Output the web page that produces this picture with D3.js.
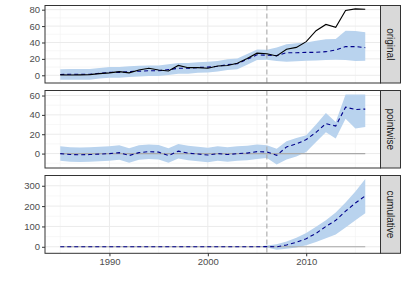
<!DOCTYPE html>
<html>
<head>
<meta charset="utf-8">
<script src="https://cdn.jsdelivr.net/npm/d3@7"></script>
<style>
  body { margin: 0; background: #fff; }
  text { font-family: "Liberation Sans", Arial, sans-serif; }
</style>
</head>
<body>
<svg id="chart" width="407" height="291"></svg>
<script>
// ---- data ----
var years = [1985, 1986, 1987, 1988, 1989, 1990, 1991, 1992, 1993, 1994, 1995, 1996, 1997, 1998, 1999, 2000,
             2001, 2002, 2003, 2004, 2005, 2006, 2007, 2008, 2009, 2010, 2011, 2012, 2013, 2014, 2015, 2016];
var interventionYear = 2006;

var actual = [0.5, 0.3, 0.5, 0.8, 2, 3, 4.5, 3, 6.5, 8.5, 6.5, 5.2, 12, 9.3, 9.3, 8.5,
              11.3, 12, 14.6, 20.5, 27, 26.3, 23.5, 31.7, 34, 41, 54.4, 62, 58.5, 79, 81, 80.5];
var predicted = [1, 1.2, 1.2, 1.2, 2.5, 3.5, 3.5, 4.5, 5, 5.5, 5.5, 7, 8.5, 8.5, 9.5, 10,
                 11, 13, 14, 19.5, 25, 24.5, 24, 27.5, 27.5, 28, 28, 28.8, 30.8, 35, 35, 33.7];
var predLower = [-5.5, -5.3, -5.3, -5.3, -4, -3, -3, -2, -1.5, -1, -1, 0.5, 2, 2, 3, 3.5,
                 4.5, 6.5, 7.5, 13, 18.5, 19, 17.5, 16.6, 17, 17.8, 18, 18.6, 19, 18.6, 17.4, 17.8];
var predUpper = [7.5, 7.7, 7.7, 7.7, 9, 10, 10, 11, 11.5, 12, 12, 13.5, 15, 15, 16, 16.5,
                 17.5, 19.5, 20.5, 26, 31.5, 31, 34, 37.8, 39, 40, 42, 44, 44.3, 54.4, 54, 52.4];

var pointEffect = [0, -1, -1.2, -1, -0.5, 0, 1, -2, 1, 2, 1.5, -2, 2.5, 0.5, -0.5, -1.5,
                   0, -1, 0, 0.5, 2, 1.7, -1.8, 6.9, 10, 14.5, 22, 31, 28.5, 48, 45.5, 46];
var pointLower = [-7.5, -8.5, -8.7, -8.5, -8, -7.5, -6.5, -9.5, -6.5, -5.5, -6, -9.5, -5, -7, -8, -9,
                  -7.5, -8.5, -7.5, -7, -5.5, -4.5, -11.4, -6, -3, 1.7, 12, 22, 15.5, 36, 26, 27.5];
var pointUpper = [7.5, 6.5, 6.3, 6.5, 7, 7.5, 8.5, 5.5, 8.5, 9.5, 9, 5.5, 10, 8, 7, 6,
                  7.5, 6.5, 7.5, 8, 9.5, 8.6, 5, 12.7, 16, 19, 30, 42, 32.7, 61, 61, 61];

var cumEffect = [0, 0, 0, 0, 0, 0, 0, 0, 0, 0, 0, 0, 0, 0, 0, 0,
                 0, 0, 0, 0, 0, 1, 0, 9, 22, 40, 66, 100, 130, 175, 215, 250];
var cumLower = [0, 0, 0, 0, 0, 0, 0, 0, 0, 0, 0, 0, 0, 0, 0, 0,
                0, 0, 0, 0, 0, -4, -14.5, -10, -3, 8, 24, 42, 60, 95, 130, 165];
var cumUpper = [0, 0, 0, 0, 0, 0, 0, 0, 0, 0, 0, 0, 0, 0, 0, 0,
                0, 0, 0, 0, 0, 6, 12, 26, 45, 68, 98, 130, 168, 218, 272, 333];

var panelNames = ["original", "pointwise", "cumulative"];
var xTicks = [1990, 2000, 2010];
var xMinor = [1985, 1995, 2005, 2015];
var yTicksOriginal = [0, 20, 40, 60, 80];
var yTicksPointwise = [0, 20, 40, 60];
var yTicksCumulative = [0, 100, 200, 300];

// ---- layout ----
var svg = d3.select("#chart");
var left = 45, right = 380.5, stripW = 20;

var x = d3.scaleLinear().domain([1983.45, 2017.55]).range([left, right]);

var panels = [
  { name: panelNames[0], top: 5.5, bottom: 83, domain: [-9.4, 85.1], ticks: yTicksOriginal,
    mid: predicted, lo: predLower, hi: predUpper, obs: actual, zero: false },
  { name: panelNames[1], top: 90.5, bottom: 168, domain: [-14.9, 65.2], ticks: yTicksPointwise,
    mid: pointEffect, lo: pointLower, hi: pointUpper, obs: null, zero: true },
  { name: panelNames[2], top: 175.5, bottom: 253.3, domain: [-32, 350.4], ticks: yTicksCumulative,
    mid: cumEffect, lo: cumLower, hi: cumUpper, obs: null, zero: true }
];

panels.forEach(function(p, pi) {
  var y = d3.scaleLinear().domain(p.domain).range([p.bottom, p.top]);
  var g = svg.append("g");

  // minor breaks: halfway between majors, kept inside the limits
  var step = p.ticks[1] - p.ticks[0];
  var minor = [];
  for (var v = p.ticks[0] - step / 2; v < p.domain[1]; v += step) {
    if (v > p.domain[0]) minor.push(v);
  }

  g.selectAll(".ymin").data(minor).enter().append("line")
    .attr("x1", left).attr("x2", right)
    .attr("y1", function(d) { return y(d); }).attr("y2", function(d) { return y(d); })
    .attr("stroke", "#f2f2f2").attr("stroke-width", 0.6);
  g.selectAll(".xmin").data(xMinor).enter().append("line")
    .attr("x1", function(d) { return x(d); }).attr("x2", function(d) { return x(d); })
    .attr("y1", p.top).attr("y2", p.bottom)
    .attr("stroke", "#f2f2f2").attr("stroke-width", 0.6);
  g.selectAll(".ymaj").data(p.ticks).enter().append("line")
    .attr("x1", left).attr("x2", right)
    .attr("y1", function(d) { return y(d); }).attr("y2", function(d) { return y(d); })
    .attr("stroke", "#ebebeb").attr("stroke-width", 1);
  g.selectAll(".xmaj").data(xTicks).enter().append("line")
    .attr("x1", function(d) { return x(d); }).attr("x2", function(d) { return x(d); })
    .attr("y1", p.top).attr("y2", p.bottom)
    .attr("stroke", "#ebebeb").attr("stroke-width", 1);

  var rows = years.map(function(yr, i) {
    return { year: yr, mid: p.mid[i], lo: p.lo[i], hi: p.hi[i], obs: p.obs ? p.obs[i] : null };
  });

  // interval band
  g.append("path")
    .datum(rows)
    .attr("fill", "#B9D3EE")
    .attr("d", d3.area()
      .x(function(d) { return x(d.year); })
      .y0(function(d) { return y(d.lo); })
      .y1(function(d) { return y(d.hi); }));

  if (p.zero) {
    g.append("path")
      .datum(rows)
      .attr("fill", "none")
      .attr("stroke", "#a9a9a9")
      .attr("stroke-width", 1.1)
      .attr("d", d3.line()
        .x(function(d) { return x(d.year); })
        .y(function() { return y(0); }));
  }

  // intervention marker
  g.append("line")
    .attr("x1", x(interventionYear)).attr("x2", x(interventionYear))
    .attr("y1", p.top).attr("y2", p.bottom)
    .attr("stroke", "#a9a9a9").attr("stroke-width", 1.1)
    .attr("stroke-dasharray", "5,3");

  g.append("path")
    .datum(rows)
    .attr("fill", "none")
    .attr("stroke", "#00008B")
    .attr("stroke-width", 1.1)
    .attr("stroke-dasharray", "4,3")
    .attr("d", d3.line()
      .x(function(d) { return x(d.year); })
      .y(function(d) { return y(d.mid); }));

  if (p.obs) {
    g.append("path")
      .datum(rows)
      .attr("fill", "none")
      .attr("stroke", "#000")
      .attr("stroke-width", 1.1)
      .attr("d", d3.line()
        .x(function(d) { return x(d.year); })
        .y(function(d) { return y(d.obs); }));
  }

  // panel border
  g.append("rect")
    .attr("x", left).attr("y", p.top)
    .attr("width", right - left).attr("height", p.bottom - p.top)
    .attr("fill", "none").attr("stroke", "#333").attr("stroke-width", 1);

  // strip
  g.append("rect")
    .attr("x", right).attr("y", p.top)
    .attr("width", stripW).attr("height", p.bottom - p.top)
    .attr("fill", "#d9d9d9").attr("stroke", "#333").attr("stroke-width", 1);
  g.append("text")
    .attr("transform", "translate(" + (right + stripW / 2) + "," + ((p.top + p.bottom) / 2) + ") rotate(90)")
    .attr("text-anchor", "middle")
    .attr("dy", "0.35em")
    .attr("font-size", "10px")
    .attr("fill", "#1a1a1a")
    .text(p.name);

  // y axis
  var ay = g.append("g")
    .attr("transform", "translate(" + left + ",0)")
    .call(d3.axisLeft(y).tickValues(p.ticks).tickSize(3).tickPadding(2));
  ay.select(".domain").remove();
  ay.selectAll("line").attr("stroke", "#333");
  ay.selectAll("text").attr("fill", "#4d4d4d").attr("font-size", "9.5px")
    .attr("font-family", "Liberation Sans, Arial, sans-serif");

  if (pi === panels.length - 1) {
    var ax = g.append("g")
      .attr("transform", "translate(0," + p.bottom + ")")
      .call(d3.axisBottom(x).tickValues(xTicks).tickFormat(d3.format("d")).tickSize(3).tickPadding(2));
    ax.select(".domain").remove();
    ax.selectAll("line").attr("stroke", "#333");
    ax.selectAll("text").attr("fill", "#4d4d4d").attr("font-size", "9.5px")
      .attr("font-family", "Liberation Sans, Arial, sans-serif");
  }
});
</script>
</body>
</html>
